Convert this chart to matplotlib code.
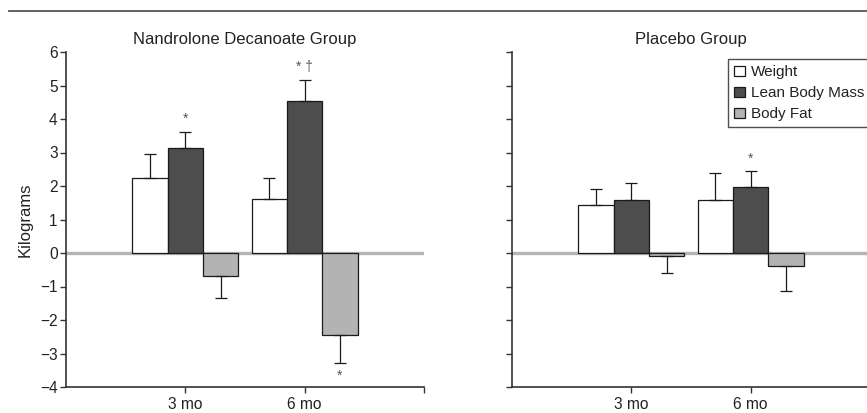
import matplotlib
matplotlib.use("Agg")
import matplotlib.pyplot as plt
import numpy as np
from matplotlib.patches import Patch

plt.rcParams['font.family'] = ['Liberation Sans', 'DejaVu Sans']

categories = ["3 mo", "6 mo"]
series = ["Weight", "Lean Body Mass", "Body Fat"]
colors = ["#ffffff", "#4d4d4d", "#b3b3b3"]

nd_weight = [2.25, 1.60]
nd_weight_err = [0.72, 0.64]
nd_lean = [3.14, 4.54]
nd_lean_err = [0.48, 0.63]
nd_fat = [-0.69, -2.46]
nd_fat_err = [0.64, 0.82]

pl_weight = [1.42, 1.58]
pl_weight_err = [0.50, 0.82]
pl_lean = [1.57, 1.96]
pl_lean_err = [0.52, 0.48]
pl_fat = [-0.10, -0.40]
pl_fat_err = [0.49, 0.74]

# (panel, category index, series index, marker text)
marks = [(0, 0, 1, "*"), (0, 1, 1, "* †"), (0, 1, 2, "*"), (1, 1, 1, "*")]

panels = [
    ("Nandrolone Decanoate Group",
     [nd_weight, nd_lean, nd_fat], [nd_weight_err, nd_lean_err, nd_fat_err]),
    ("Placebo Group",
     [pl_weight, pl_lean, pl_fat], [pl_weight_err, pl_lean_err, pl_fat_err]),
]

fig = plt.figure(figsize=(8.67, 4.13), dpi=100)
fig.add_artist(plt.Line2D([9/867, 1.0], [1 - 11/413, 1 - 11/413],
                          color="#555555", lw=1.3, transform=fig.transFigure))

ax_w = 358 / 867
ax_b = 1 - 387 / 413
ax_h = 335 / 413
lefts = [66 / 867, 512 / 867]

bw = 0.296
x = np.arange(1, len(categories) + 1)
offsets = [-bw, 0, bw]

for pi, (title, vals, errs) in enumerate(panels):
    ax = fig.add_axes([lefts[pi], ax_b, ax_w, ax_h])
    ax.axhline(0, color="#b4b4b4", lw=2.4, zorder=1)
    for si in range(3):
        v = np.array(vals[si])
        e = np.array(errs[si])
        lower = np.where(v < 0, e, 0)
        upper = np.where(v >= 0, e, 0)
        ax.bar(x + offsets[si], v, width=bw, color=colors[si],
               edgecolor="#1a1a1a", linewidth=0.9, zorder=2,
               label=series[si])
        ax.errorbar(x + offsets[si], v, yerr=[lower, upper], fmt="none",
                    ecolor="#1a1a1a", elinewidth=0.9, capsize=4.5,
                    capthick=0.9, zorder=3)
    for (p, ci, si, txt) in marks:
        if p != pi:
            continue
        v = vals[si][ci]
        e = errs[si][ci]
        if v >= 0:
            ypos = v + e + 0.38
        else:
            ypos = v - e - 0.38
        ax.text(x[ci] + offsets[si], ypos, txt, ha="center", va="center",
                fontsize=10, color="#555555")

    ax.set_xlim(0, 3)
    ax.set_ylim(-4, 6)
    ax.set_yticks(range(-4, 7))
    ax.set_xticks([1, 2, 3])
    ax.set_xticklabels(categories + [""])
    for s in ["top", "right"]:
        ax.spines[s].set_visible(False)
    for s in ["left", "bottom"]:
        ax.spines[s].set_color("#333333")
        ax.spines[s].set_linewidth(1.2)
    ax.tick_params(axis="both", direction="out", length=4, width=1,
                   color="#333333", labelsize=11.2, labelcolor="#222222", pad=2)
    ax.tick_params(axis="x", pad=3)
    yl = [("−" + str(abs(t))) if t < 0 else str(t) for t in range(-4, 7)]
    if pi == 0:
        ax.set_yticklabels(yl)
        ax.set_ylabel("Kilograms", fontsize=12, color="#222222", labelpad=5)
    else:
        ax.set_yticklabels([])
    ax.set_title(title, fontsize=12, color="#222222", pad=6)
    if pi == 1:
        handles = [Patch(facecolor=colors[i], edgecolor="#1a1a1a", lw=0.9)
                   for i in range(3)]
        leg = ax.legend(handles, series, loc="upper right",
                        bbox_to_anchor=(1.0, 0.978), fontsize=11,
                        frameon=True, fancybox=False, edgecolor="#222222",
                        handlelength=0.7, handleheight=0.7,
                        handletextpad=0.35, borderpad=0.4, labelspacing=0.45,
                        borderaxespad=0)
        leg.get_frame().set_linewidth(1.0)
        for t in leg.get_texts():
            t.set_color("#222222")

fig.savefig("out.png", dpi=100)
